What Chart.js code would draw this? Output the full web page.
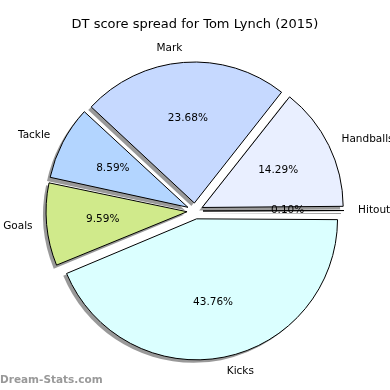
<!DOCTYPE html>
<html>
<head>
<meta charset="utf-8">
<script src="https://cdn.jsdelivr.net/npm/chart.js@4.4.0/dist/chart.umd.min.js"></script>
<style>
  html, body { margin: 0; padding: 0; background: #fff; }
  #wrap { width: 390px; height: 390px; }
</style>
</head>
<body>
<div id="wrap"><canvas id="pie" width="390" height="390"></canvas></div>
<script>
// categories and values, listed clockwise from 3 o'clock
const categories = ['Kicks', 'Goals', 'Tackle', 'Mark', 'Handballs', 'Hitout'];
const percentages = [43.76, 9.59, 8.59, 23.68, 14.29, 0.10];
const sliceColors = ['#dbffff', '#d0ea8b', '#b3d5ff', '#c6d9ff', '#e9efff', '#d9d9d9'];

const titleText = 'DT score spread for Tom Lynch (2015)';
const watermark = 'Dream-Stats.com';

// chart.js moves an arc out by offset / 4 pixels
const explodeOf = arc => (arc.options.offset || 0) / 4;

// chart.js also grows some offset arcs; undo that so every wedge keeps the same radius
const sameRadiusPlugin = {
    id: 'sameRadius',
    beforeDatasetsDraw(chart) {
        const meta = chart.getDatasetMeta(0);
        const R = meta.controller.outerRadius;
        meta.data.forEach(arc => {
            const e = explodeOf(arc);
            const fix = 1 - Math.sin(Math.min(Math.PI, arc.circumference || 0));
            arc.outerRadius = R - e * fix;
        });
    }
};

// matplotlib style shadow, drawn under the wedges
const shadowPlugin = {
    id: 'shadow',
    beforeDatasetsDraw(chart) {
        const ctx = chart.ctx;
        const meta = chart.getDatasetMeta(0);
        const R = meta.controller.outerRadius;
        ctx.save();
        ctx.fillStyle = 'rgba(0,0,0,0.4)';
        meta.data.forEach(arc => {
            const p = arc.getProps(['x', 'y', 'startAngle', 'endAngle']);
            const mid = (p.startAngle + p.endAngle) / 2;
            const e = explodeOf(arc);
            const cx = p.x + Math.cos(mid) * e - 3;
            const cy = p.y + Math.sin(mid) * e + 3;
            ctx.beginPath();
            ctx.moveTo(cx, cy);
            ctx.arc(cx, cy, R, p.startAngle, p.endAngle);
            ctx.closePath();
            ctx.fill();
        });
        ctx.restore();
    }
};

// labels outside and percentages inside, plus title and watermark
const labelPlugin = {
    id: 'labels',
    afterDraw(chart) {
        const ctx = chart.ctx;
        const meta = chart.getDatasetMeta(0);
        const R = meta.controller.outerRadius;
        ctx.save();
        ctx.fillStyle = '#000';
        ctx.font = '10.5px "DejaVu Sans"';
        meta.data.forEach((arc, i) => {
            const p = arc.getProps(['x', 'y', 'startAngle', 'endAngle']);
            const mid = (p.startAngle + p.endAngle) / 2;
            const e = explodeOf(arc);
            const c = Math.cos(mid), s = Math.sin(mid);
            // category name at 1.1 r
            const lr = e + R * 1.1;
            ctx.textAlign = c >= 0 ? 'left' : 'right';
            ctx.textBaseline = 'middle';
            ctx.fillText(categories[i], p.x + c * lr, p.y + s * lr);
            // percentage at 0.6 r
            const pr = e + R * 0.6;
            ctx.textAlign = 'center';
            ctx.fillText(percentages[i].toFixed(2) + '%', p.x + c * pr, p.y + s * pr);
        });

        ctx.font = '13px "DejaVu Sans"';
        ctx.textAlign = 'center';
        ctx.textBaseline = 'middle';
        ctx.fillText(titleText, 195, 25);

        ctx.font = 'bold 10.5px "DejaVu Sans"';
        ctx.fillStyle = '#999';
        ctx.textAlign = 'left';
        ctx.fillText(watermark, 0, 380);
        ctx.restore();
    }
};

new Chart(document.getElementById('pie'), {
    type: 'pie',
    data: {
        labels: categories,
        datasets: [{
            data: percentages,
            backgroundColor: sliceColors,
            borderColor: '#000',
            borderWidth: 1,
            offset: 32,
            hoverOffset: 32
        }]
    },
    options: {
        responsive: false,
        animation: false,
        rotation: 90,
        radius: 141,
        layout: { padding: { left: 46, right: 46, top: 62, bottom: 30 } },
        plugins: {
            legend: { display: false },
            title: { display: false },
            tooltip: { enabled: false }
        }
    },
    plugins: [sameRadiusPlugin, shadowPlugin, labelPlugin]
});
</script>
</body>
</html>
